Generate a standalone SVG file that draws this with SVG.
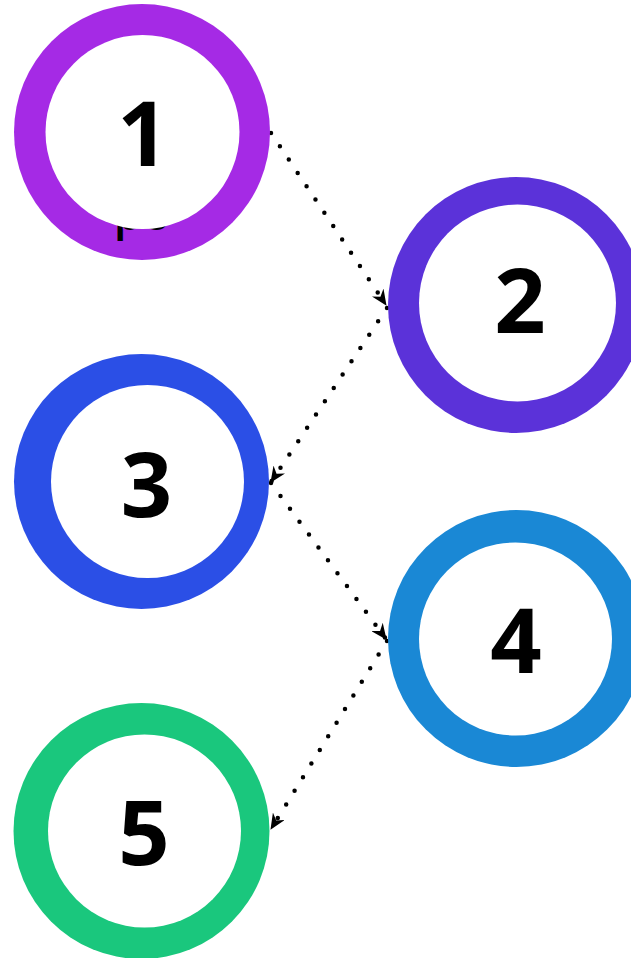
<svg xmlns="http://www.w3.org/2000/svg" width="631" height="958" viewBox="0 0 631 958">
<style>
.in{fill:#ffffff}
.num{font-family:"Open Sans","DejaVu Sans",sans-serif;font-weight:700;font-size:90px;fill:#000;text-anchor:middle}
.lbl{font-family:"Open Sans","DejaVu Sans",sans-serif;font-weight:600;font-size:46px;fill:#000;text-anchor:middle}
.con{fill:none;stroke:#000;stroke-width:4.5;stroke-linecap:round;stroke-dasharray:0 16}
</style>
<defs>
<marker id="ah" viewBox="0 0 16 14" refX="15" refY="7" markerWidth="16" markerHeight="14" markerUnits="userSpaceOnUse" orient="auto">
<path d="M0,0 L16,7 L0,14 L5,7 z" fill="#000"/>
</marker>
</defs>
<rect width="631" height="958" fill="#fff"/>
<g id="connectors">
<line class="con" x1="271" y1="133" x2="386" y2="305" marker-end="url(#ah)"/>
<line class="con" x1="387" y1="308" x2="271" y2="482" marker-end="url(#ah)"/>
<line class="con" x1="271" y1="483" x2="386" y2="639" marker-end="url(#ah)"/>
<line class="con" x1="387" y1="641" x2="271" y2="829" marker-end="url(#ah)"/>
</g>
<g id="node1">
<circle cx="142" cy="132" r="128" fill="#a52ae5"/>
<text class="lbl" x="142" y="230">po</text>
<circle class="in" cx="142.5" cy="132" r="97"/>
<text class="num" x="143" y="166">1</text>
</g>
<g id="node2">
<circle cx="516" cy="305" r="128" fill="#5b32d9"/>
<circle class="in" cx="517.5" cy="303" r="98.5"/>
<text class="num" x="520" y="333">2</text>
</g>
<g id="node3">
<circle cx="141.5" cy="481.5" r="127.5" fill="#2b4fe6"/>
<circle class="in" cx="147.5" cy="481.5" r="96.5"/>
<text class="num" x="146.5" y="517">3</text>
</g>
<g id="node4">
<circle cx="516.5" cy="638.5" r="128.5" fill="#1a88d5"/>
<circle class="in" cx="515.5" cy="639" r="96.5"/>
<text class="num" x="516" y="673">4</text>
</g>
<g id="node5">
<circle cx="141.5" cy="831" r="128" fill="#1ac77d"/>
<circle class="in" cx="144.5" cy="831" r="96.5"/>
<text class="num" x="144" y="865">5</text>
</g>
</svg>
